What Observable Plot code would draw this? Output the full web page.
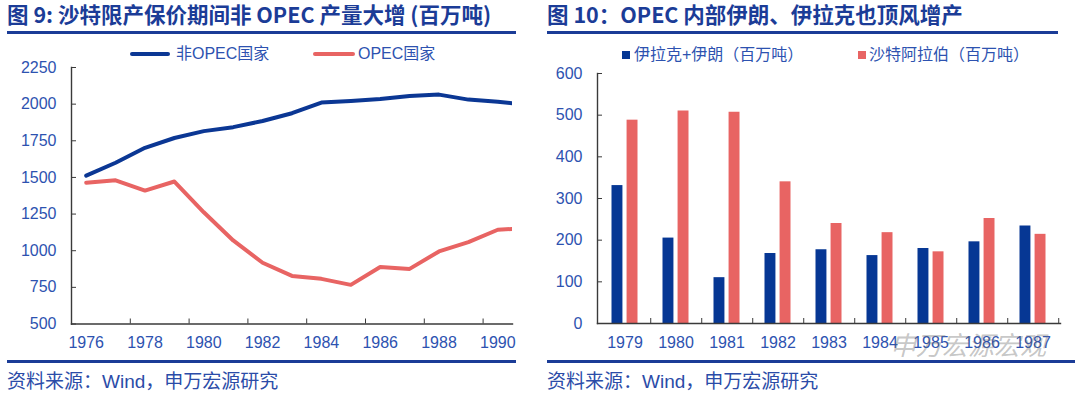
<!DOCTYPE html>
<html><head><meta charset="utf-8">
<script src="https://cdn.jsdelivr.net/npm/d3@7"></script>
<script src="https://cdn.jsdelivr.net/npm/@observablehq/plot@0.6"></script>
<style>
body{margin:0;background:#fff;width:1080px;height:395px;overflow:hidden;position:relative;font-family:"Liberation Sans",Arial,"Noto Sans CJK SC",sans-serif;}
.abs{position:absolute;white-space:nowrap;}
.title{font-family:"Noto Sans CJK SC",sans-serif;font-weight:bold;font-size:21.5px;color:#1B3C97;line-height:26px;height:26px;}
.bar{position:absolute;background:#1B3C97;height:2.5px;}
.leg{font-size:16px;color:#2D52B0;line-height:1;font-family:"Liberation Sans","Noto Sans CJK SC",sans-serif;}
.cap{font-size:19px;color:#2B4CA8;line-height:1;font-family:"Liberation Sans","Noto Sans CJK SC",sans-serif;}
.plot{position:absolute;}
</style></head>
<body>
<div class="abs title" style="left:7px;top:1px;">图 9: 沙特限产保价期间非 OPEC 产量大增 (百万吨)</div>
<div class="bar" style="left:7px;top:31px;width:509px;"></div>
<div class="abs title" style="left:547px;top:1px;">图 10：OPEC 内部伊朗、伊拉克也顶风增产</div>
<div class="bar" style="left:547px;top:31px;width:511px;"></div>

<div class="abs" style="left:130px;top:52px;width:40px;height:4px;border-radius:2px;background:#0B3794;"></div>
<div class="abs leg" style="left:176px;top:46px;">非OPEC国家</div>
<div class="abs" style="left:313px;top:52px;width:42px;height:4px;border-radius:2px;background:#E86463;"></div>
<div class="abs leg" style="left:358px;top:46px;">OPEC国家</div>

<div class="abs" style="left:622px;top:51px;width:8px;height:8px;background:#063794;"></div>
<div class="abs leg" style="left:634px;top:47px;">伊拉克+伊朗（百万吨）</div>
<div class="abs" style="left:858px;top:51px;width:8px;height:8px;background:#E86463;"></div>
<div class="abs leg" style="left:869px;top:47px;">沙特阿拉伯（百万吨）</div>

<div id="left" class="plot" style="left:0px;top:60px;"></div>
<div id="right" class="plot" style="left:540px;top:60px;"></div>

<div class="bar" style="left:7px;top:360px;width:509px;"></div>
<div class="bar" style="left:547px;top:360px;width:528px;"></div>
<div class="abs cap" style="left:7px;top:372px;">资料来源：Wind，申万宏源研究</div>
<div class="abs cap" style="left:547px;top:372px;">资料来源：Wind，申万宏源研究</div>
<div class="abs" style="left:890px;top:331px;font-size:26px;line-height:1;color:rgba(110,110,110,0.4);font-family:'Noto Sans CJK SC',sans-serif;font-style:italic;">申万宏源宏观</div>

<script>
// ---------- data ----------
const lineYears = [1976,1977,1978,1979,1980,1981,1982,1983,1984,1985,1986,1987,1988,1989,1990,1991];
const nonOpec   = [1512,1600,1702,1769,1816,1843,1885,1938,2011,2021,2035,2056,2065,2031,2017,1995];
const opec      = [1464,1480,1410,1472,1262,1070,918,828,808,767,889,876,995,1058,1143,1155];
const lineXDomain = [1975.5, 1990.5];
const lineXLabels = [1976,1978,1980,1982,1984,1986,1988,1990];
const lineXTickMarks = [1977.5,1979.5,1981.5,1983.5,1985.5,1987.5,1989.5];
const lineYTicks = [500,750,1000,1250,1500,1750,2000,2250];

const barYears  = [1979,1980,1981,1982,1983,1984,1985,1986,1987];
const iraqIran  = [331,205,110,168,177,163,180,196,234];
const saudi     = [488,510,507,340,240,218,172,252,214];
const barYTicks = [0,100,200,300,400,500,600];

// ---------- styles ----------
const BLUE = "#0B3794", BAR_BLUE = "#063794", RED = "#E86463";
const LABEL = "#2D52B0", AXIS = "#3a3a3a";
const font = "'Liberation Sans', Arial, 'Noto Sans CJK SC', sans-serif";

const nonOpecData = lineYears.map((y,i)=>({year:y, value:nonOpec[i]}));
const opecData = lineYears.map((y,i)=>({year:y, value:opec[i]}));

const left = Plot.plot({
  width: 530, height: 295,
  marginLeft: 71, marginRight: 18, marginTop: 7, marginBottom: 31.5,
  x: {domain: lineXDomain},
  y: {domain: [lineYTicks[0], lineYTicks[lineYTicks.length-1]]},
  style: {fontFamily: font, fontSize: "16px", color: LABEL, background: "transparent", overflow: "visible"},
  marks: [
    Plot.axisY({ticks: lineYTicks, tickSize: 0, tickPadding: 15, label: null, tickFormat: d => String(d)}),
    Plot.axisY({ticks: lineYTicks, tickSize: 5, dx: 5, text: null, label: null, stroke: AXIS}),
    Plot.axisX({ticks: lineXLabels, tickSize: 0, tickPadding: 13, label: null, tickFormat: d => String(d)}),
    Plot.axisX({ticks: lineXTickMarks, tickSize: 5, dy: -5, text: null, label: null, stroke: AXIS}),
    Plot.frame({anchor: "left", stroke: AXIS, strokeWidth: 1.4}),
    Plot.frame({anchor: "bottom", stroke: AXIS, strokeWidth: 1.4}),
    Plot.line(opecData, {x: "year", y: "value", stroke: RED, strokeWidth: 4, clip: true}),
    Plot.line(nonOpecData, {x: "year", y: "value", stroke: BLUE, strokeWidth: 4, clip: true})
  ]
});
document.getElementById("left").appendChild(left);

const rW = 530, rML = 57, rMR = 10;
const bw = (rW - rML - rMR) / barYears.length;
const outer = bw * 0.243, barW = bw * 0.221;
const iraqData = barYears.map((y,i)=>({year:y, value:iraqIran[i]}));
const saudiData = barYears.map((y,i)=>({year:y, value:saudi[i]}));

const right = Plot.plot({
  width: rW, height: 295,
  marginLeft: rML, marginRight: rMR, marginTop: 13, marginBottom: 32,
  x: {type: "band", domain: barYears, padding: 0},
  y: {domain: [barYTicks[0], barYTicks[barYTicks.length-1]]},
  style: {fontFamily: font, fontSize: "16px", color: LABEL, background: "transparent", overflow: "visible"},
  marks: [
    Plot.barY(iraqData, {x: "year", y: "value", fill: BAR_BLUE, insetLeft: outer, insetRight: bw - outer - barW}),
    Plot.barY(saudiData, {x: "year", y: "value", fill: RED, insetLeft: bw - outer - barW, insetRight: outer}),
    Plot.axisY({ticks: barYTicks, tickSize: 0, tickPadding: 15, label: null, tickFormat: d => String(d)}),
    Plot.axisY({ticks: barYTicks, tickSize: 5, dx: 5, text: null, label: null, stroke: AXIS}),
    Plot.axisX({tickSize: 0, tickPadding: 13, label: null, tickFormat: d => String(d)}),
    Plot.axisX({tickSize: 5, dy: -5, dx: bw/2, text: null, label: null, stroke: AXIS}),
    Plot.frame({anchor: "left", stroke: AXIS, strokeWidth: 1.4}),
    Plot.frame({anchor: "bottom", stroke: AXIS, strokeWidth: 1.4})
  ]
});
document.getElementById("right").appendChild(right);
</script>
</body></html>
